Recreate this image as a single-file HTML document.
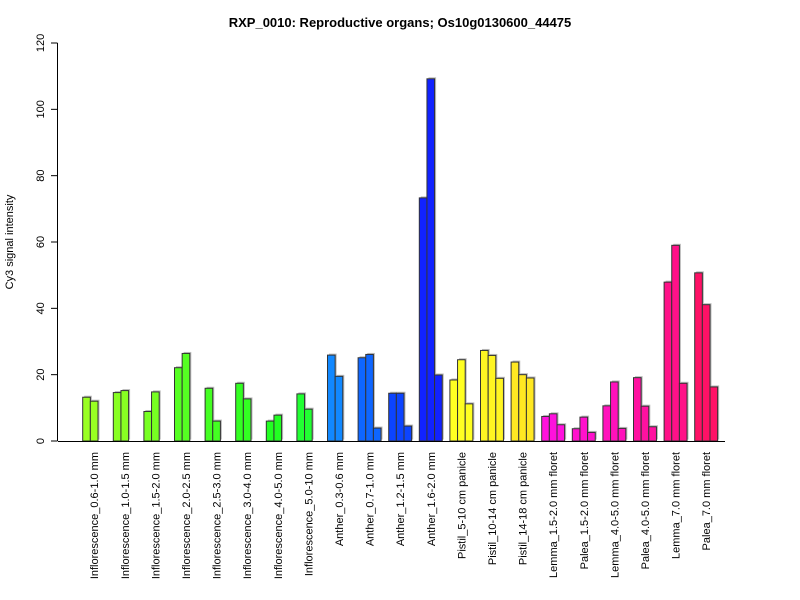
<!DOCTYPE html>
<html><head><meta charset="utf-8"><style>
body{margin:0;background:#fff}
svg{display:block;font-family:"Liberation Sans",Arial,sans-serif}
</style></head><body>
<svg id="chart" width="800" height="600">
<text x="400" y="27" text-anchor="middle" font-size="13" font-weight="bold">RXP_0010: Reproductive organs; Os10g0130600_44475</text>
<text transform="translate(13,242) rotate(-90)" text-anchor="middle" font-size="11">Cy3 signal intensity</text>
<g id="yaxis"></g>
<g id="bars"></g>
<g id="xlabels"></g>
<line x1="58" y1="441.5" x2="725" y2="441.5" stroke="#000"/>
</svg>
<script>
const categories=["Inflorescence_0.6-1.0 mm","Inflorescence_1.0-1.5 mm","Inflorescence_1.5-2.0 mm","Inflorescence_2.0-2.5 mm","Inflorescence_2.5-3.0 mm","Inflorescence_3.0-4.0 mm","Inflorescence_4.0-5.0 mm","Inflorescence_5.0-10 mm","Anther_0.3-0.6 mm","Anther_0.7-1.0 mm","Anther_1.2-1.5 mm","Anther_1.6-2.0 mm","Pistil_5-10 cm panicle","Pistil_10-14 cm panicle","Pistil_14-18 cm panicle","Lemma_1.5-2.0 mm floret","Palea_1.5-2.0 mm floret","Lemma_4.0-5.0 mm floret","Palea_4.0-5.0 mm floret","Lemma_7.0 mm floret","Palea_7.0 mm floret"];
const rep1=[13.2,14.6,8.9,22.1,15.9,17.4,6.0,14.2,25.9,25.1,14.4,73.3,18.4,27.3,23.8,7.4,3.7,10.6,19.1,47.9,50.7];
const rep2=[12.0,15.2,14.8,26.4,6.0,12.7,7.8,9.6,19.5,26.1,14.4,109.2,24.5,25.8,20.0,8.2,7.2,17.8,10.5,59.0,41.1];
const rep3=[null,null,null,null,null,null,null,null,null,3.9,4.5,19.9,11.2,18.9,19.0,4.9,2.6,3.8,4.3,17.4,16.3];
const colors=["#99ff22","#88ff22","#77ff22","#55ff22","#44ff22","#33ff22","#22ff22","#22ff33","#1188ff","#0e66ff","#0c44ff","#1122ff","#ffff22","#fff522","#ffe822","#ff11dd","#ff11cc","#ff11bb","#ff11a0","#ff1188","#ff1166"];
const yTicks=[0,20,40,60,80,100,120];
const NS="http://www.w3.org/2000/svg";
const y=v=>441-v*(398/120);
const gx=i=>82.7+i*30.6;
const bw=7.65;
function mk(t,a,p){const e=document.createElementNS(NS,t);for(const k in a)e.setAttribute(k,a[k]);p.appendChild(e);return e;}
const ya=document.getElementById('yaxis');
mk('line',{x1:57.5,y1:y(0),x2:57.5,y2:y(120),stroke:'#000'},ya);
yTicks.forEach(t=>{
 const l=mk('line',{x1:51,y1:y(t),x2:57.5,y2:y(t),stroke:'#000'},ya);
 
 
 const tx=mk('text',{transform:`translate(44,${y(t)}) rotate(-90)`,'text-anchor':'middle','font-size':11},ya);
 tx.textContent=t;
 
 
});
const bg=document.getElementById('bars');
const xl=document.getElementById('xlabels');
categories.forEach((c,i)=>{
 [rep1[i],rep2[i],rep3[i]].forEach((v,j)=>{
  if(v==null)return;
  const x=gx(i)+j*bw;
  mk('rect',{x:x+1.5,y:y(v)-1.5,width:bw,height:v*(398/120),fill:'#bbb'},bg);
 });
 [rep1[i],rep2[i],rep3[i]].forEach((v,j)=>{
  if(v==null)return;
  const x=gx(i)+j*bw;
  const r=mk('rect',{x:x,y:y(v),width:bw,height:v*(398/120),fill:colors[i],stroke:'#333','stroke-width':1},bg);
  
  
 });
 const t=mk('text',{transform:`translate(${gx(i)+11.5+4},452) rotate(-90)`,'text-anchor':'end','font-size':11},xl);
 t.textContent=c;
 
 
});
</script>
</body></html>
